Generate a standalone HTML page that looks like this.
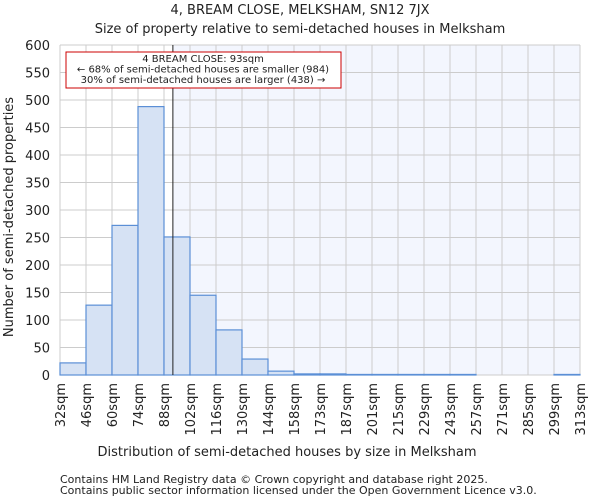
<!DOCTYPE html>
<html><head><meta charset="utf-8"><style>
body{margin:0;background:#fff;font-family:"DejaVu Sans","Liberation Sans",sans-serif;}
svg text{font-family:"DejaVu Sans","Liberation Sans",sans-serif;fill:#222;}
</style></head><body>
<svg id="chart" width="600" height="500">
<text x="300" y="14" text-anchor="middle" font-size="13">4, BREAM CLOSE, MELKSHAM, SN12 7JX</text>
<text x="300" y="33" text-anchor="middle" font-size="13">Size of property relative to semi-detached houses in Melksham</text>
<g id="plot"></g>
<text x="287" y="456" text-anchor="middle" font-size="13">Distribution of semi-detached houses by size in Melksham</text>
<text transform="translate(13,217) rotate(-90)" text-anchor="middle" font-size="13">Number of semi-detached properties</text>
<text x="60" y="483" font-size="11">Contains HM Land Registry data © Crown copyright and database right 2025.</text>
<text x="60" y="494" font-size="11">Contains public sector information licensed under the Open Government Licence v3.0.</text>
</svg>
<script>
const xLabels=["32sqm","46sqm","60sqm","74sqm","88sqm","102sqm","116sqm","130sqm","144sqm","158sqm","173sqm","187sqm","201sqm","215sqm","229sqm","243sqm","257sqm","271sqm","285sqm","299sqm","313sqm"];
const counts=[22,127,272,488,251,145,82,29,7,2,2,1,1,1,1,1,0,0,0,1];
const yTicks=[0,50,100,150,200,250,300,350,400,450,500,550,600];
const propertySize=93;
const binStart=32, binWidth=14.05;
const L=60,R=580,T=45,B=375,yMax=600;
const n=counts.length, bw=(R-L)/n;
const ys=v=>B-(v/yMax)*(B-T);
const xs=s=>L+(s-binStart)/binWidth*bw;
const NS="http://www.w3.org/2000/svg";
const g=document.getElementById('plot');
function mk(t,a){const e=document.createElementNS(NS,t);for(const k in a)e.setAttribute(k,a[k]);g.appendChild(e);return e;}
const lx=xs(propertySize);
let bg=mk('rect',{x:lx,y:T,width:R-lx,height:B-T,fill:'#f3f6fe'});


for(let i=0;i<=n;i++){const x=L+i*bw;let l=mk('line',{x1:x,x2:x,y1:T,y2:B,stroke:'#ccc'});

}
yTicks.forEach(v=>{let l=mk('line',{x1:L,x2:R,y1:ys(v),y2:ys(v),stroke:'#ccc'});


let t=mk('text',{x:L-10,y:ys(v)+5,'text-anchor':'end','font-size':13});t.textContent=v;

});
counts.forEach((c,i)=>{if(c<=0)return;let r=mk('rect',{x:L+i*bw,y:ys(c),width:bw,height:B-ys(c),fill:'#d6e2f4',stroke:'#5b8fd6','stroke-width':1.2});

});
xLabels.forEach((s,i)=>{const x=L+i*bw;let t=mk('text',{transform:`translate(${x+5},383) rotate(-90)`,'text-anchor':'end','font-size':13});t.textContent=s;

});
let pl=mk('line',{x1:lx,x2:lx,y1:T,y2:B,stroke:'#222','stroke-width':1});


let box=mk('rect',{x:66,y:52,width:275,height:36,fill:'#fff',stroke:'#c00','stroke-width':1});


["4 BREAM CLOSE: 93sqm","← 68% of semi-detached houses are smaller (984)","30% of semi-detached houses are larger (438) →"].forEach((s,i)=>{let t=mk('text',{x:203,y:62+i*10.5,'text-anchor':'middle','font-size':10});t.textContent=s;

});
</script>
</body></html>
